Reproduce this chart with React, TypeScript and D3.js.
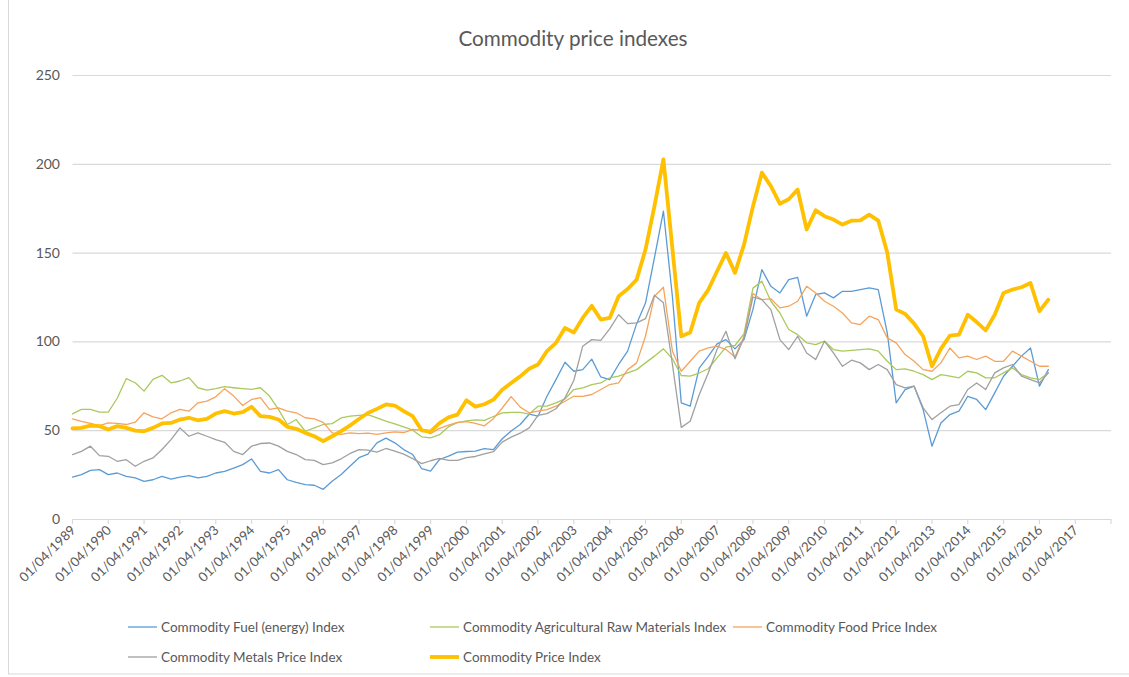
import React, { useRef, useEffect } from 'react';
import * as d3 from 'd3';

// quarterly readings, Apr 1989 .. Jul 2016
const dates = [
  '1989-04', '1989-07', '1989-10',
  '1990-01', '1990-04', '1990-07', '1990-10',
  '1991-01', '1991-04', '1991-07', '1991-10',
  '1992-01', '1992-04', '1992-07', '1992-10',
  '1993-01', '1993-04', '1993-07', '1993-10',
  '1994-01', '1994-04', '1994-07', '1994-10',
  '1995-01', '1995-04', '1995-07', '1995-10',
  '1996-01', '1996-04', '1996-07', '1996-10',
  '1997-01', '1997-04', '1997-07', '1997-10',
  '1998-01', '1998-04', '1998-07', '1998-10',
  '1999-01', '1999-04', '1999-07', '1999-10',
  '2000-01', '2000-04', '2000-07', '2000-10',
  '2001-01', '2001-04', '2001-07', '2001-10',
  '2002-01', '2002-04', '2002-07', '2002-10',
  '2003-01', '2003-04', '2003-07', '2003-10',
  '2004-01', '2004-04', '2004-07', '2004-10',
  '2005-01', '2005-04', '2005-07', '2005-10',
  '2006-01', '2006-04', '2006-07', '2006-10',
  '2007-01', '2007-04', '2007-07', '2007-10',
  '2008-01', '2008-04', '2008-07', '2008-10',
  '2009-01', '2009-04', '2009-07', '2009-10',
  '2010-01', '2010-04', '2010-07', '2010-10',
  '2011-01', '2011-04', '2011-07', '2011-10',
  '2012-01', '2012-04', '2012-07', '2012-10',
  '2013-01', '2013-04', '2013-07', '2013-10',
  '2014-01', '2014-04', '2014-07', '2014-10',
  '2015-01', '2015-04', '2015-07', '2015-10',
  '2016-01', '2016-04', '2016-07',
];

const fuelIndex = [
  23.6, 25, 27.4,
  27.8, 25, 25.9, 24,
  23.1, 21.2, 22.1, 24,
  22.5, 23.6, 24.4, 23.1,
  24, 25.9, 26.8, 28.7,
  30.6, 33.8, 26.8, 25.9,
  27.8, 22.1, 20.6, 19.3,
  19, 16.7, 21.3, 25.1,
  29.8, 34.5, 36.5, 42.9,
  45.5, 42.9, 39.1, 36.3,
  28.3, 27, 33.5, 35.4,
  37.7, 38, 38.2, 39.6,
  39.1, 45.2, 49.5, 53.2,
  59, 57.9, 69.1, 78.5,
  88.3, 83.2, 84.1, 90,
  80, 78.5, 87, 94.5,
  110, 121.6, 147, 173.3,
  125, 65.4, 63.5, 85,
  91.6, 98.6, 101, 95.8,
  101, 118, 140.4, 131,
  127.3, 134.8, 136, 114.2,
  126.4, 127.3, 124.5, 128.2,
  128.2, 129.2, 130.1, 129.2,
  104.8, 65.4, 72.9, 74.8,
  61.6, 41, 54.1, 58.8,
  60.7, 69.1, 67.3, 61.6,
  71, 80.4, 86, 91.7,
  96.3, 74.8, 84.1,
];

const agriIndex = [
  59.2, 61.7, 61.7,
  60.2, 60.2, 68, 79,
  76.7, 72, 78.6, 80.9,
  76.7, 77.7, 79.6, 73.9,
  72.6, 73.4, 74.5, 73.9,
  73.4, 73, 73.9, 69.2,
  61.7, 53.2, 56, 49.4,
  51.3, 53.2, 53.7, 56.9,
  57.9, 58.4, 58.8, 56.9,
  55.1, 53.6, 51.9, 50,
  46.3, 45.7, 47.5, 52,
  54.3, 55.3, 55.8, 55.5,
  57.7, 59.7, 60, 60,
  59.1, 63.5, 63.5, 65.4,
  67.6, 72.9, 73.8, 75.7,
  76.6, 79.5, 80.4, 82.3,
  84.1, 87.9, 91.7, 95.8,
  90.2, 80.8, 80.4, 82.2,
  84.6, 90.7, 96.8, 97.7,
  104.3, 130, 133.9, 122.6,
  116, 106.7, 103.8, 99.2,
  98.2, 100.1, 95.4, 94.5,
  95, 95.4, 95.8, 94.5,
  88.8, 84.1, 84.5, 83.2,
  81.3, 78.5, 81.3, 80.4,
  79.5, 83.2, 82.3, 79.5,
  79.5, 82.3, 85.1, 81.3,
  79.5, 78.5, 82.3,
];

const foodIndex = [
  56.4, 55, 53.8,
  52.6, 54.1, 53.8, 53.2,
  54.5, 59.8, 57.5, 56.4,
  59.8, 61.7, 60.7, 65.4,
  66.4, 68.8, 73.4, 69.2,
  63.9, 67.3, 68.3, 61.7,
  62.6, 60.7, 59.8, 57,
  56.4, 54.4, 48.5, 47.6,
  48.5, 48.1, 48.3, 47.6,
  48.5, 49.1, 48.7, 50.4,
  50, 48.1, 51, 52.9,
  54.4, 54.8, 53.9, 52.5,
  56.5, 62.5, 68.9, 63,
  59.8, 60.7, 61.6, 63.5,
  66.3, 69.1, 69.1, 70.1,
  72.9, 75.7, 76.6, 84.1,
  87.9, 102.9, 125.4, 130.5,
  94.5, 83.2, 88.8, 94.5,
  96.3, 97.3, 95.4, 91.2,
  102.9, 127, 123.5, 124,
  118.9, 119.8, 122.6, 131,
  127.3, 122.6, 119.8, 116,
  110.4, 109.5, 114.2, 112.3,
  102, 99.2, 92.6, 88.8,
  84.1, 83.2, 87.9, 96.3,
  90.7, 91.7, 89.8, 91.7,
  88.8, 88.8, 94.5, 91.7,
  88.8, 86, 86,
];

const metalsIndex = [
  36.3, 38.1, 41,
  35.7, 35.3, 32.5, 33.4,
  29.7, 32.5, 34.4, 39.1,
  44.7, 51.3, 46.6, 48.5,
  46.6, 44.7, 43.2, 38.1,
  36.3, 41, 42.5, 42.8,
  41, 38.1, 36.3, 33.4,
  33, 30.6, 31.6, 33.9,
  36.9, 39.1, 38.8, 37.6,
  39.7, 38.2, 36.5, 34,
  31.2, 32.8, 34.1, 33,
  33, 34.6, 35.2, 36.6,
  37.9, 43.3, 46.1, 48.3,
  51.3, 58.3, 59.3, 62.1,
  68.2, 78, 97.3, 101,
  100.6, 107, 115, 110,
  110.4, 112.8, 126, 121.7,
  87, 51.6, 55, 70,
  82.2, 95.4, 105.7, 90.2,
  102, 125, 123.5, 117.9,
  101, 95.4, 102.9, 93.5,
  89.8, 100.1, 93.5, 86,
  89.4, 87.9, 84.1, 87,
  84.1, 75.7, 73.8, 74.8,
  62.6, 56, 59.8, 63.5,
  64.4, 72.9, 76.6, 72.9,
  82.3, 85.1, 87, 80.4,
  78.5, 76.6, 82.3,
];

const priceIndex = [
  51, 51.3, 52.6,
  52.3, 50.4, 52.3, 51.3,
  49.8, 49.4, 51.3, 53.8,
  54.1, 56, 57, 55.6,
  56.4, 59.4, 60.7, 59.4,
  60.2, 63.2, 57.9, 57.5,
  56, 51.9, 50.8, 48.5,
  46.6, 43.8, 46.6, 49.5,
  52.7, 56.3, 59.7, 62,
  64.5, 63.9, 60.7, 57.9,
  49.9, 49.2, 54, 57.2,
  58.8, 66.8, 63.3, 64.6,
  67.2, 72.8, 76.6, 80.3,
  84.6, 87, 94.5, 99.2,
  107.6, 105, 113.2, 120,
  112.3, 113.2, 125.4, 129.5,
  134.8, 151.7, 176, 202.5,
  152, 102.9, 105, 121.7,
  129, 139.5, 149.8, 138.6,
  154.5, 176, 195, 187.4,
  177.5, 180, 185.5, 163,
  173.8, 170.5, 168.6, 165.8,
  168, 168.1, 171.4, 168,
  150, 118, 115.5, 110,
  102.9, 86, 95.8, 103.3,
  103.8, 115, 110.9, 106.2,
  115, 127.3, 129.2, 130.5,
  132.9, 117, 123.5,
];

const xTickLabels = [
  '01/04/1989', '01/04/1990', '01/04/1991', '01/04/1992', '01/04/1993',
  '01/04/1994', '01/04/1995', '01/04/1996', '01/04/1997', '01/04/1998',
  '01/04/1999', '01/04/2000', '01/04/2001', '01/04/2002', '01/04/2003',
  '01/04/2004', '01/04/2005', '01/04/2006', '01/04/2007', '01/04/2008',
  '01/04/2009', '01/04/2010', '01/04/2011', '01/04/2012', '01/04/2013',
  '01/04/2014', '01/04/2015', '01/04/2016', '01/04/2017',
];
const yTicks = [0, 50, 100, 150, 200, 250];

const seriesNames = [
  'Commodity Fuel (energy) Index',
  'Commodity Agricultural Raw Materials Index',
  'Commodity Food Price Index',
  'Commodity Metals Price Index',
  'Commodity Price Index',
];

const FONT = "Lato, 'Liberation Sans', sans-serif";
const TEXT = '#595959';
const GRID = '#d9d9d9';

export default function App() {
  const svgRef = useRef<SVGSVGElement>(null);

  useEffect(() => {
    const width = 1129;
    const svg = d3.select(svgRef.current);
    svg.selectAll('*').remove();

    const parseMonth = d3.timeParse('%Y-%m');
    const parseLabel = d3.timeParse('%d/%m/%Y');

    const x = d3.scaleTime()
      .domain([parseMonth('1989-04')!, parseMonth('2018-04')!])
      .range([72.5, 1111]);
    const y = d3.scaleLinear().domain([0, 250]).range([519, 75]);

    // chart frame
    svg.append('rect')
      .attr('x', 8.5).attr('y', -2).attr('width', width + 10).attr('height', 676)
      .attr('fill', '#fff').attr('stroke', GRID);

    svg.append('text')
      .attr('x', 573).attr('y', 46)
      .attr('text-anchor', 'middle')
      .attr('font-family', FONT).attr('font-size', 20.7)
      .attr('fill', TEXT)
      .text('Commodity price indexes');

    // horizontal gridlines + y labels
    svg.append('g').selectAll('line')
      .data(yTicks)
      .join('line')
      .attr('x1', x.range()[0]).attr('x2', x.range()[1])
      .attr('y1', d => y(d) + 0.5).attr('y2', d => y(d) + 0.5)
      .attr('stroke', GRID).attr('stroke-width', 1.2);

    svg.append('g').selectAll('text')
      .data(yTicks)
      .join('text')
      .attr('x', 60).attr('y', d => y(d))
      .attr('dy', '0.35em')
      .attr('text-anchor', 'end')
      .attr('font-family', FONT).attr('font-size', 14)
      .attr('fill', TEXT)
      .text(d => d);

    // x ticks
    const tickDates = xTickLabels.map(s => parseLabel(s)!);
    const tickMarks = [...tickDates, x.domain()[1]];
    svg.append('g').selectAll('line')
      .data(tickMarks)
      .join('line')
      .attr('x1', d => x(d)).attr('x2', d => x(d))
      .attr('y1', 519).attr('y2', 524)
      .attr('stroke', GRID).attr('stroke-width', 1.2);

    svg.append('g').selectAll('text')
      .data(xTickLabels)
      .join('text')
      .attr('transform', (d, i) => `translate(${x(tickDates[i]) + 4},${531}) rotate(-45)`)
      .attr('text-anchor', 'end')
      .attr('font-family', FONT).attr('font-size', 13.2)
      .attr('fill', TEXT)
      .text(d => d);

    // series
    const parsed = dates.map(d => parseMonth(d)!);
    const series = [
      { name: seriesNames[0], values: fuelIndex, color: '#5B9BD5', w: 1.3 },
      { name: seriesNames[1], values: agriIndex, color: '#A9C95C', w: 1.3 },
      { name: seriesNames[2], values: foodIndex, color: '#F5A45D', w: 1.3 },
      { name: seriesNames[3], values: metalsIndex, color: '#A0A0A0', w: 1.3 },
      { name: seriesNames[4], values: priceIndex, color: '#FFC000', w: 3.8 },
    ];

    const line = d3.line<number>()
      .x((_, i) => x(parsed[i]))
      .y(d => y(d));

    svg.append('g').selectAll('path')
      .data(series)
      .join('path')
      .attr('d', s => line(s.values))
      .attr('fill', 'none')
      .attr('stroke', s => s.color)
      .attr('stroke-width', s => s.w)
      .attr('stroke-linejoin', 'round')
      .attr('stroke-linecap', 'round');

    // legend
    const legendPos = [
      { x: 128, y: 627 }, { x: 430, y: 627 }, { x: 733, y: 627 },
      { x: 128, y: 657 }, { x: 430, y: 657 },
    ];
    const lg = svg.append('g').selectAll('g')
      .data(series)
      .join('g')
      .attr('transform', (_, i) => `translate(${legendPos[i].x},${legendPos[i].y})`);
    lg.append('line')
      .attr('x1', 0).attr('x2', 29).attr('y1', 0).attr('y2', 0)
      .attr('stroke', s => s.color).attr('stroke-width', s => s.w);
    lg.append('text')
      .attr('x', 33).attr('dy', '0.35em')
      .attr('font-family', FONT).attr('font-size', 13.5)
      .attr('fill', TEXT)
      .text(s => s.name);
  }, []);

  return (
    <svg
      ref={svgRef}
      width={1129}
      height={677}
      style={{ position: 'absolute', left: 0, top: 0, background: '#fff' }}
    />
  );
}
